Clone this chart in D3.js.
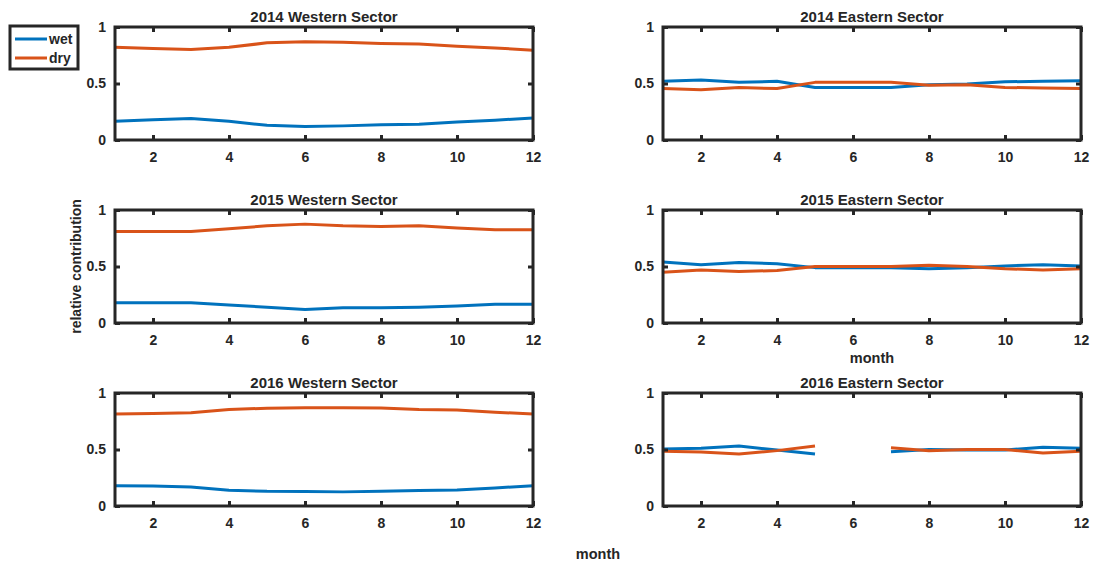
<!DOCTYPE html>
<html>
<head>
<meta charset="utf-8">
<script src="https://cdn.jsdelivr.net/npm/d3@7"></script>
<style>
  html, body { margin: 0; padding: 0; background: #fff; }
  svg { display: block; }
  text { font-family: "Liberation Sans", Arial, sans-serif; font-weight: bold; fill: #262626; }
</style>
</head>
<body>
<svg id="chart" width="1093" height="562"></svg>
<script>
// Monthly relative contribution of wet and dry components, by year and sector
const months = [1, 2, 3, 4, 5, 6, 7, 8, 9, 10, 11, 12];
const xTicks = [2, 4, 6, 8, 10, 12];
const yTicks = [0, 0.5, 1];
const seriesNames = ["wet", "dry"];
const seriesColors = ["#0072BD", "#D95319"];

const wet2014W = [0.165, 0.18, 0.19, 0.165, 0.13, 0.12, 0.125, 0.135, 0.14, 0.16, 0.175, 0.195];
const dry2014W = [0.82, 0.81, 0.80, 0.82, 0.86, 0.87, 0.865, 0.855, 0.85, 0.83, 0.815, 0.795];
const wet2014E = [0.52, 0.53, 0.51, 0.52, 0.465, 0.465, 0.465, 0.49, 0.495, 0.515, 0.52, 0.525];
const dry2014E = [0.455, 0.445, 0.465, 0.455, 0.51, 0.51, 0.51, 0.485, 0.49, 0.465, 0.46, 0.455];
const wet2015W = [0.18, 0.18, 0.18, 0.16, 0.14, 0.12, 0.135, 0.135, 0.14, 0.15, 0.165, 0.165];
const dry2015W = [0.81, 0.81, 0.81, 0.835, 0.86, 0.875, 0.86, 0.855, 0.86, 0.84, 0.825, 0.825];
const wet2015E = [0.54, 0.515, 0.535, 0.525, 0.49, 0.49, 0.49, 0.48, 0.49, 0.505, 0.515, 0.505];
const dry2015E = [0.45, 0.47, 0.455, 0.465, 0.5, 0.5, 0.5, 0.51, 0.5, 0.48, 0.47, 0.48];
const wet2016W = [0.18, 0.178, 0.168, 0.14, 0.13, 0.128, 0.125, 0.13, 0.138, 0.142, 0.16, 0.18];
const dry2016W = [0.815, 0.818, 0.825, 0.855, 0.865, 0.87, 0.87, 0.868, 0.855, 0.85, 0.83, 0.815];
const wet2016E = [0.505, 0.51, 0.53, 0.495, 0.46, null, 0.48, 0.5, 0.495, 0.495, 0.52, 0.51];
const dry2016E = [0.485, 0.478, 0.46, 0.49, 0.53, null, 0.515, 0.49, 0.5, 0.5, 0.47, 0.485];

const panelTitles = [
  "2014 Western Sector", "2014 Eastern Sector",
  "2015 Western Sector", "2015 Eastern Sector",
  "2016 Western Sector", "2016 Eastern Sector"
];
const panelSeries = [
  [wet2014W, dry2014W], [wet2014E, dry2014E],
  [wet2015W, dry2015W], [wet2015E, dry2015E],
  [wet2016W, dry2016W], [wet2016E, dry2016E]
];

// Layout of the 3x2 grid
const colLeft = [115, 663];
const panelW = 418;
const rowTop = [27, 210, 393];
const panelH = 113;
const axisColor = "#262626";

const svg = d3.select("#chart");

panelTitles.forEach((title, i) => {
  const col = i % 2, row = Math.floor(i / 2);
  const g = svg.append("g").attr("transform", `translate(${colLeft[col]},${rowTop[row]})`);

  const x = d3.scaleLinear().domain([1, 12]).range([0, panelW]);
  const y = d3.scaleLinear().domain([0, 1]).range([panelH, 0]);

  // data lines
  const line = d3.line()
    .defined(d => d.v != null)
    .x(d => x(d.m))
    .y(d => y(d.v));

  panelSeries[i].forEach((vals, s) => {
    g.append("path")
      .datum(months.map((m, k) => ({ m: m, v: vals[k] })))
      .attr("fill", "none")
      .attr("stroke", seriesColors[s])
      .attr("stroke-width", 3)
      .attr("stroke-linejoin", "round")
      .attr("d", line);
  });

  // axes with inward ticks on all four sides
  const tickLen = 5;
  const bottom = g.append("g").attr("transform", `translate(0,${panelH})`)
    .call(d3.axisBottom(x).tickValues(xTicks).tickSizeInner(-tickLen).tickSizeOuter(0).tickPadding(12));
  const top = g.append("g")
    .call(d3.axisTop(x).tickValues(xTicks).tickSizeInner(-tickLen).tickSizeOuter(0).tickFormat(""));
  const left = g.append("g")
    .call(d3.axisLeft(y).tickValues(yTicks).tickSizeInner(-tickLen).tickSizeOuter(0).tickPadding(9).tickFormat(d3.format("")));
  const right = g.append("g").attr("transform", `translate(${panelW},0)`)
    .call(d3.axisRight(y).tickValues(yTicks).tickSizeInner(-tickLen).tickSizeOuter(0).tickFormat(""));

  [bottom, top, left, right].forEach(a => {
    a.select(".domain").remove();
    a.selectAll("line").attr("stroke", axisColor).attr("stroke-width", 3);
    a.selectAll("text")
      .style("font-family", "'Liberation Sans', Arial, sans-serif")
      .style("font-weight", "bold")
      .style("font-size", "14px")
      .attr("fill", axisColor);
  });

  // box
  g.append("rect")
    .attr("x", 0).attr("y", 0)
    .attr("width", panelW).attr("height", panelH)
    .attr("fill", "none")
    .attr("stroke", axisColor)
    .attr("stroke-width", 3);

  // title
  g.append("text")
    .attr("x", panelW / 2).attr("y", -5)
    .attr("text-anchor", "middle")
    .style("font-size", "15px")
    .text(title);
});

// y-axis label
svg.append("text")
  .attr("transform", `translate(81,${rowTop[1] + panelH / 2}) rotate(-90)`)
  .attr("text-anchor", "middle")
  .style("font-size", "14px")
  .text("relative contribution");

// x-axis labels
svg.append("text")
  .attr("x", colLeft[1] + panelW / 2).attr("y", rowTop[1] + panelH + 40)
  .attr("text-anchor", "middle")
  .style("font-size", "14.5px")
  .text("month");
svg.append("text")
  .attr("x", 598).attr("y", 559)
  .attr("text-anchor", "middle")
  .style("font-size", "14.5px")
  .text("month");

// legend
const legend = svg.append("g").attr("transform", "translate(10,26)");
legend.append("rect")
  .attr("x", 0).attr("y", 0).attr("width", 68).attr("height", 43)
  .attr("fill", "#fff").attr("stroke", axisColor).attr("stroke-width", 3);
seriesNames.forEach((name, s) => {
  const ly = 13 + s * 19;
  legend.append("line")
    .attr("x1", 5).attr("x2", 37).attr("y1", ly).attr("y2", ly)
    .attr("stroke", seriesColors[s]).attr("stroke-width", 3);
  legend.append("text")
    .attr("x", 39).attr("y", ly + 5)
    .style("font-size", "14px")
    .text(name);
});
</script>
</body>
</html>
